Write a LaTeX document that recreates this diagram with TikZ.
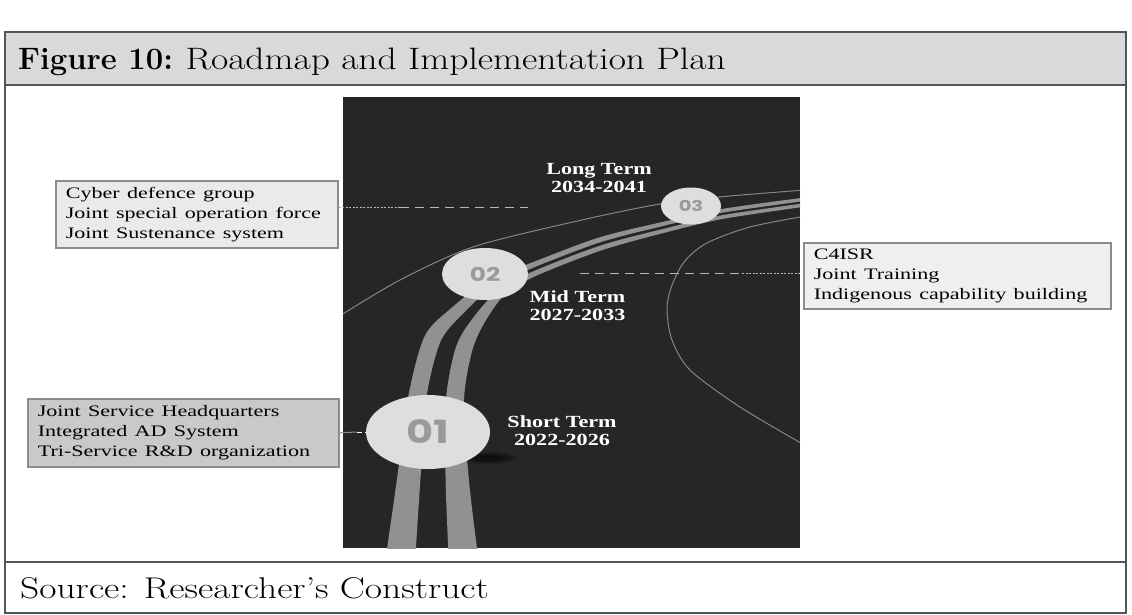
\documentclass[tikz,border=0pt]{standalone}
\usepackage{fontspec}
\usepackage{graphicx}
\newfontfamily\tnr{Liberation Serif}
\newfontfamily\numf{Poppins}
\usetikzlibrary{calc,shapes.geometric}
\definecolor{frameC}{HTML}{555555}
\definecolor{bandC}{HTML}{D9D9D9}
\definecolor{darkC}{HTML}{262626}
\definecolor{roadC}{HTML}{919191}
\definecolor{arcC}{HTML}{858585}
\definecolor{ellC}{HTML}{DEDEDE}
\definecolor{numC}{HTML}{9A9A9A}
\definecolor{boxLight}{HTML}{EAEAEA}
\definecolor{boxLight2}{HTML}{EFEFEF}
\definecolor{boxDark}{HTML}{C9C9C9}
\definecolor{boxLine}{HTML}{8C8C8C}
\definecolor{dashC}{HTML}{B8B8B8}
\newcommand{\wideC}[1]{\scalebox{1.3}[1]{\begin{tabular}{@{}c@{}}#1\end{tabular}}}
\newcommand{\wideL}[1]{\scalebox{1.38}[1]{\begin{tabular}{@{}l@{}}#1\end{tabular}}}
\begin{document}
\begin{tikzpicture}[x=1pt,y=-1pt,
  infobox/.style={draw=boxLine, line width=1.6pt, anchor=north west, inner xsep=10pt, inner ysep=0pt,
    text width=262pt, align=left, font=\tnr\fontsize{16}{20}\selectfont},
  phase/.style={text=white, inner sep=0pt, font=\tnr\bfseries\fontsize{17}{18.5}\selectfont},
  milestone/.style={ellipse, fill=ellC, inner sep=0pt, text=numC},
  finedash/.style={draw=dashC, line width=0.8pt, dash pattern=on 2pt off 1.5pt},
  longdash/.style={draw=dashC, line width=1pt, dash pattern=on 9pt off 6pt},
  stripe/.style={fill=roadC},
  thinarc/.style={draw=arcC, line width=1pt}
]
\useasboundingbox (0,0) rectangle (1132,615);
\fill[white] (0,0) rectangle (1132,615);
% title band and frame
\fill[bandC] (5,32) rectangle (1126,85);
\draw[frameC, line width=1.8pt] (5,32) rectangle (1126,613);
\draw[frameC, line width=1.8pt] (5,85) -- (1126,85);
\draw[frameC, line width=1.8pt] (5,562) -- (1126,562);
\node[anchor=base west, inner sep=0pt] (title) at (18,70)
  {\fontsize{31}{31}\selectfont\textbf{Figure 10:} \scalebox{1.21}[1]{Roadmap and Implementation Plan}};
\node[anchor=base west, inner sep=0pt] (source) at (20,598)
  {\fontsize{30}{30}\selectfont\scalebox{1.25}[1]{Source: Researcher’s Construct}};
% dark picture
\fill[darkC] (343,97) rectangle (800,548);
\begin{scope}
\clip (343,97) rectangle (800,548);
\draw[thinarc] plot[smooth] coordinates {(338,317) (400,280) (473,247) (573,222) (660,204) (730,196) (806,190)};
\draw[thinarc] plot[smooth] coordinates {(806,216) (750,227) (707,243) (684,262) (671,288) (667,310) (672,340) (690,370) (740,407) (806,446)};
\fill[stripe] plot[smooth] coordinates {(386,556) (397,479) (408.1,397.2) (424.6,336.3) (451.4,308) (490.4,278.2) (529.4,263.5) (598,237.8) (663.7,221.7) (721.2,209.1) (806.4,197.3)}
  -- plot[smooth] coordinates {(806.8,200.7) (721.8,212.8) (664.7,225.6) (599.5,242.5) (531.4,268.4) (495.2,284.6) (462.3,314.3) (440.3,342.1) (426.2,399) (420.4,479.6) (415.4,556)} -- cycle;
\fill[stripe] plot[smooth] coordinates {(448.6,556) (445.6,480.4) (445.8,401) (455.7,347.9) (471.7,319.7) (498.8,289.4) (532.6,271.6) (600.5,245.5) (665.3,228.4) (722.2,215.2) (807.2,202.9)}
  -- plot[smooth] coordinates {(807.6,206.3) (722.9,218.9) (666.3,232.3) (602,250.2) (534.6,276.5) (503.6,295.8) (482.6,326) (471.4,353.7) (463.9,402.8) (469,481) (478,556)} -- cycle;
\foreach \r/\o in {30/0.12,26/0.15,22/0.2,17/0.25}{
  \fill[black, opacity=\o] (488,458) ellipse [x radius=\r pt, y radius=\r/5 pt];
}
\end{scope}
% milestones
\node[milestone, minimum width=124pt, minimum height=74pt] (m1) at (428,432)
  {\scalebox{1.3}[1]{\numf\bfseries\fontsize{32}{32}\selectfont 01}};
\node[milestone, minimum width=86pt, minimum height=52pt] (m2) at (485,274)
  {\scalebox{1.3}[1]{\numf\bfseries\fontsize{19}{19}\selectfont 02}};
\node[milestone, minimum width=60pt, minimum height=37pt] (m3) at (691,206)
  {\scalebox{1.3}[1]{\numf\bfseries\fontsize{15}{15}\selectfont 03}};
% phase labels
\node[phase] (lt) at (599,180) {\wideC{Long Term\\2034-2041}};
\node[phase] (mt) at (577.5,308) {\wideC{Mid Term\\2027-2033}};
\node[phase] (st) at (562,433) {\wideC{Short Term\\2022-2026}};
% information boxes
\node[infobox, fill=boxLight, minimum width=282pt, minimum height=67pt] (cyber) at (55,180)
  {\wideL{Cyber defence group\\Joint special operation force\\Joint Sustenance system}};
\node[infobox, fill=boxLight2, minimum width=307pt, minimum height=66pt, text width=287pt] (c4) at (803,242)
  {\wideL{C4ISR\\Joint Training\\Indigenous capability building}};
\node[infobox, fill=boxDark, minimum width=311pt, minimum height=68pt, text width=291pt] (jsh) at (27,398)
  {\wideL{Joint Service Headquarters\\Integrated AD System\\Tri-Service R\&D organization}};
% connectors
\coordinate (cyA) at (400,207);
\coordinate (cyB) at (528,207);
\draw[finedash] (cyber.east |- cyA) -- (cyA);
\draw[longdash] (cyA) -- (cyB);
\coordinate (c4A) at (580,273);
\coordinate (c4B) at (742,273);
\draw[longdash] (c4A) -- (c4B);
\draw[finedash] (c4B) -- (c4.west |- c4A);
\fill[white] ($(c4.west |- c4A)+(-3,-1.5)$) rectangle ++(3,3);
\coordinate (jA) at (357,432);
\draw[boxLine, line width=1pt] (jsh.east) -- (jA);
\draw[white, line width=1pt, dash pattern=on 5pt off 3pt] (jA) -- (m1.west);
\end{tikzpicture}
\end{document}
